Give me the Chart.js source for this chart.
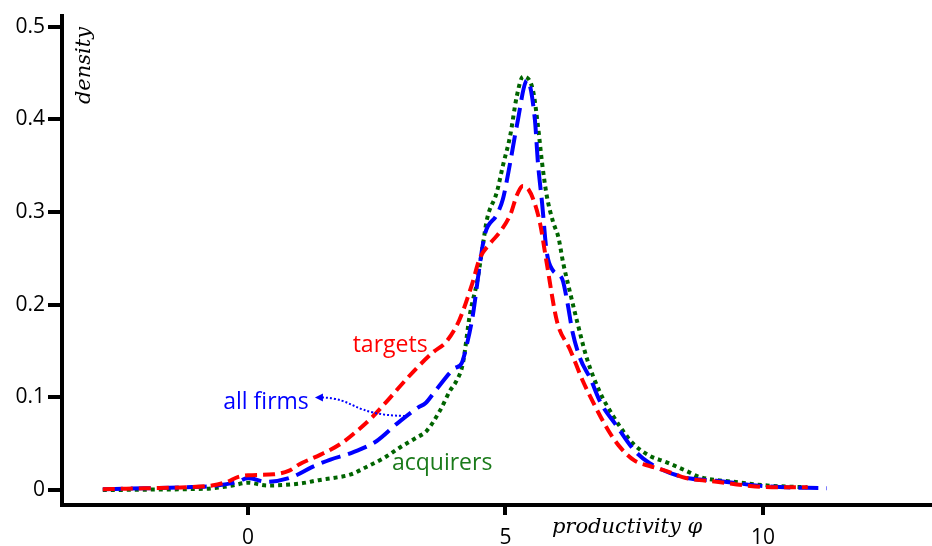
<!DOCTYPE html>
<html>
<head>
<meta charset="utf-8">
<script src="https://cdn.jsdelivr.net/npm/chart.js@4.4.1/dist/chart.umd.min.js"></script>
<style>
  html, body { margin: 0; padding: 0; background: #fff; }
  #wrap { width: 932px; height: 546px; }
</style>
</head>
<body>
<div id="wrap"><canvas id="c" width="932" height="546"></canvas></div>
<script>
// ---- data ----
const targetsX = [-2.82, -2, -1.2, -0.7, -0.4, -0.2, 0, 0.5, 0.8, 1.0, 1.4, 1.8, 2.1, 2.4, 2.7, 3.0, 3.3, 3.6, 3.85, 4.1, 4.35, 4.5, 4.7, 4.9, 5.1, 5.22, 5.34, 5.45, 5.55, 5.67, 5.8, 6.0, 6.25, 6.5, 6.8, 7.0, 7.2, 7.5, 7.8, 8.1, 8.5, 9.1, 9.75, 10.3, 10.87];
const targetsY = [0.001, 0.002, 0.003, 0.005, 0.009, 0.014, 0.016, 0.017, 0.021, 0.028, 0.038, 0.05, 0.063, 0.078, 0.096, 0.115, 0.133, 0.149, 0.16, 0.183, 0.222, 0.25, 0.266, 0.279, 0.298, 0.318, 0.328, 0.324, 0.312, 0.288, 0.245, 0.182, 0.152, 0.118, 0.084, 0.064, 0.048, 0.032, 0.026, 0.021, 0.013, 0.009, 0.0045, 0.003, 0.003];

const allFirmsX = [-2.82, -2, -1.2, -0.6, -0.2, 0, 0.35, 0.85, 1.25, 1.6, 2.0, 2.5, 2.9, 3.3, 3.45, 3.65, 4.0, 4.15, 4.25, 4.37, 4.5, 4.6, 4.83, 4.95, 5.09, 5.22, 5.42, 5.57, 5.63, 5.71, 5.8, 5.92, 6.1, 6.2, 6.3, 6.45, 6.65, 6.85, 7.15, 7.5, 7.8, 8.45, 9.1, 10.1, 11.24];
const allFirmsY = [0.001, 0.002, 0.003, 0.005, 0.009, 0.013, 0.009, 0.014, 0.025, 0.033, 0.040, 0.053, 0.072, 0.089, 0.094, 0.108, 0.131, 0.137, 0.157, 0.19, 0.243, 0.276, 0.297, 0.314, 0.353, 0.393, 0.442, 0.4, 0.353, 0.31, 0.257, 0.237, 0.228, 0.203, 0.171, 0.142, 0.12, 0.094, 0.07, 0.043, 0.029, 0.014, 0.01, 0.004, 0.002];

const acquirersX = [-2.82, -2, -1.2, -0.68, -0.3, 0, 0.37, 1.0, 1.4, 1.65, 2.0, 2.3, 2.65, 2.95, 3.25, 3.47, 3.73, 3.92, 4.05, 4.17, 4.31, 4.45, 4.56, 4.64, 4.83, 4.95, 5.09, 5.22, 5.34, 5.53, 5.63, 5.71, 5.8, 5.92, 6.03, 6.12, 6.25, 6.39, 6.58, 6.83, 7.09, 7.28, 7.48, 7.8, 8.13, 8.5, 8.78, 9.42, 10.08, 10.85];
const acquirersY = [0.0, 0.0005, 0.001, 0.002, 0.005, 0.008, 0.005, 0.007, 0.011, 0.013, 0.017, 0.025, 0.035, 0.046, 0.056, 0.064, 0.086, 0.107, 0.118, 0.136, 0.19, 0.225, 0.264, 0.292, 0.321, 0.35, 0.382, 0.425, 0.446, 0.432, 0.393, 0.353, 0.318, 0.29, 0.272, 0.245, 0.214, 0.182, 0.142, 0.106, 0.08, 0.064, 0.05, 0.037, 0.03, 0.021, 0.014, 0.009, 0.005, 0.003];

const xTicks = [0, 5, 10];
const yTicks = [0, 0.1, 0.2, 0.3, 0.4, 0.5];

const seriesLabels = ['targets', 'all firms', 'acquirers'];
const xTitle = 'productivity φ';
const yTitle = 'density';

// annotation anchors in data units
const labelPos = {
  targets:   [2.76, 0.156],
  allFirms:  [0.35, 0.095],
  acquirers: [3.77, 0.029]
};
const arrowPath = [[3.05, 0.080], [2.0, 0.081], [2.1, 0.099], [1.30, 0.100]];

const toPts = (xs, ys) => xs.map((x, i) => ({ x: x, y: ys[i] }));

const annot = {
  id: 'annot',
  afterDatasetsDraw(chart) {
    const ctx = chart.ctx, xs = chart.scales.x, ys = chart.scales.y;
    const px = v => xs.getPixelForValue(v), py = v => ys.getPixelForValue(v);
    ctx.save();
    ctx.textAlign = 'center';
    ctx.textBaseline = 'middle';
    ctx.font = '23px "Open Sans", Lato, sans-serif';
    ctx.fillStyle = '#ff0000';
    ctx.fillText(seriesLabels[0], px(labelPos.targets[0]), py(labelPos.targets[1]));
    ctx.fillStyle = '#0000ff';
    ctx.fillText(seriesLabels[1], px(labelPos.allFirms[0]), py(labelPos.allFirms[1]));
    ctx.fillStyle = '#1a7a1a';
    ctx.fillText(seriesLabels[2], px(labelPos.acquirers[0]), py(labelPos.acquirers[1]));

    // dotted arrow
    const p = arrowPath.map(a => [px(a[0]), py(a[1])]);
    ctx.strokeStyle = '#0000ff';
    ctx.lineWidth = 2;
    ctx.setLineDash([2, 2]);
    ctx.beginPath();
    ctx.moveTo(p[0][0], p[0][1]);
    ctx.bezierCurveTo(p[1][0], p[1][1], p[2][0], p[2][1], p[3][0] + 6, p[3][1]);
    ctx.stroke();
    ctx.setLineDash([]);
    ctx.fillStyle = '#0000ff';
    ctx.beginPath();
    ctx.moveTo(p[3][0], p[3][1]);
    ctx.lineTo(p[3][0] + 8, p[3][1] - 4);
    ctx.lineTo(p[3][0] + 8, p[3][1] + 4);
    ctx.closePath();
    ctx.fill();

    // axis titles
    ctx.fillStyle = '#000';
    ctx.font = 'italic 21px "DejaVu Serif", serif';
    ctx.save();
    ctx.translate(chart.chartArea.left + 23, py(0.458));
    ctx.rotate(-Math.PI / 2);
    ctx.fillText(yTitle, 0, 0);
    ctx.restore();
    ctx.fillText(xTitle, px(7.36), chart.chartArea.bottom + 23);
    ctx.restore();
  }
};

new Chart(document.getElementById('c'), {
  type: 'line',
  data: {
    datasets: [
      { label: seriesLabels[0], data: toPts(targetsX, targetsY), borderColor: '#ff0000', borderWidth: 4, borderDash: [12, 6], pointRadius: 0, cubicInterpolationMode: 'monotone', fill: false },
      { label: seriesLabels[1], data: toPts(allFirmsX, allFirmsY), borderColor: '#0000ff', borderWidth: 4, borderDash: [20, 8], pointRadius: 0, cubicInterpolationMode: 'monotone', fill: false },
      { label: seriesLabels[2], data: toPts(acquirersX, acquirersY), borderColor: '#006400', borderWidth: 4, borderDash: [4, 4], pointRadius: 0, cubicInterpolationMode: 'monotone', fill: false }
    ]
  },
  options: {
    responsive: false,
    animation: false,
    devicePixelRatio: 1,
    layout: { padding: { top: 12, left: 0, right: 0, bottom: 0 } },
    plugins: { legend: { display: false }, tooltip: { enabled: false } },
    scales: {
      x: {
        type: 'linear',
        min: -3.612, max: 13.282,
        afterBuildTicks: s => { s.ticks = xTicks.map(v => ({ value: v })); },
        afterFit: s => { s.height = 41; },
        grid: { display: true, drawOnChartArea: false, drawTicks: true, tickLength: 10, tickWidth: 4, tickColor: '#000', color: '#000', lineWidth: 4 },
        border: { display: true, width: 4, color: '#000' },
        ticks: { color: '#000', font: { family: '"Open Sans", Lato, sans-serif', size: 21 }, padding: 10, maxRotation: 0, callback: v => String(v) }
      },
      y: {
        min: -0.01606, max: 0.5118,
        afterBuildTicks: s => { s.ticks = yTicks.map(v => ({ value: v })); },
        afterFit: s => { s.width = 62; },
        grid: { display: true, drawOnChartArea: false, drawTicks: true, tickLength: 14, tickWidth: 4, tickColor: '#000', color: '#000', lineWidth: 4 },
        border: { display: true, width: 4, color: '#000' },
        ticks: { color: '#000', font: { family: '"Open Sans", Lato, sans-serif', size: 21 }, padding: 3, callback: v => v === 0 ? '0' : v.toFixed(1) }
      }
    }
  },
  plugins: [annot]
});
</script>
</body>
</html>
